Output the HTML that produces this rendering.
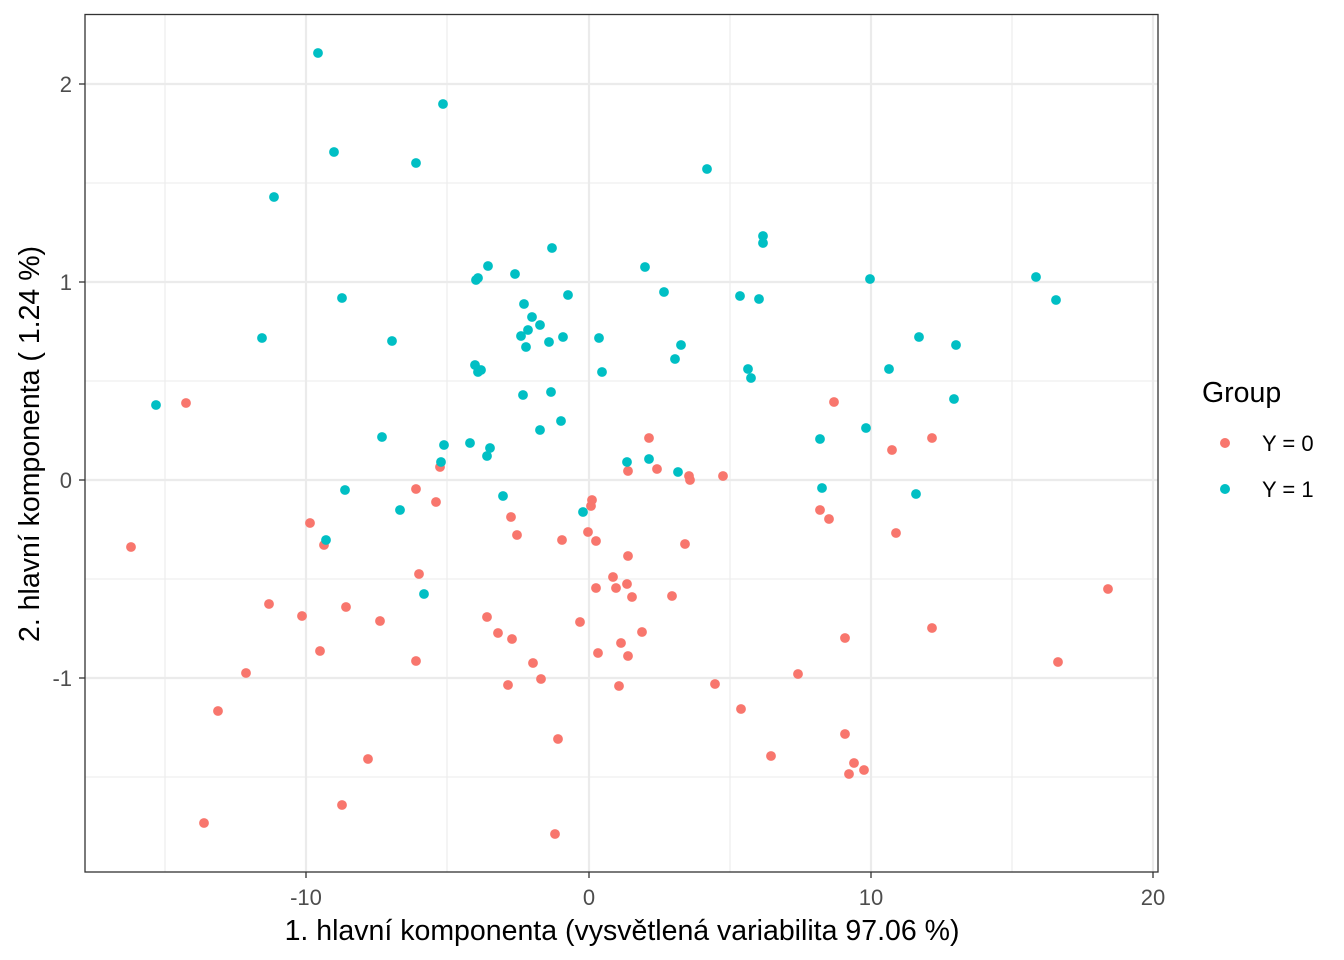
<!DOCTYPE html>
<html><head><meta charset="utf-8"><style>body{margin:0;background:#fff}svg{display:block}text{font-family:"Liberation Sans",Arial,sans-serif}</style></head><body>
<svg width="1344" height="960" xmlns="http://www.w3.org/2000/svg">
<rect width="1344" height="960" fill="#fff"/>
<g stroke="#ebebeb" stroke-width="1.1">
<line x1="165" y1="14" x2="165" y2="872"/><line x1="447" y1="14" x2="447" y2="872"/><line x1="730" y1="14" x2="730" y2="872"/><line x1="1012" y1="14" x2="1012" y2="872"/>
<line x1="85" y1="183" x2="1158" y2="183"/><line x1="85" y1="381" x2="1158" y2="381"/><line x1="85" y1="579" x2="1158" y2="579"/><line x1="85" y1="777" x2="1158" y2="777"/>
</g>
<g stroke="#ebebeb" stroke-width="2.2">
<line x1="306" y1="14" x2="306" y2="872"/><line x1="589" y1="14" x2="589" y2="872"/><line x1="871" y1="14" x2="871" y2="872"/><line x1="1153" y1="14" x2="1153" y2="872"/>
<line x1="85" y1="84" x2="1158" y2="84"/><line x1="85" y1="282" x2="1158" y2="282"/><line x1="85" y1="480" x2="1158" y2="480"/><line x1="85" y1="678" x2="1158" y2="678"/>
</g>
<g fill="#F8766D" id="r"></g>
<g fill="#00BFC4" id="c"></g>
<rect x="85" y="14.5" width="1073" height="857.5" fill="none" stroke="#333" stroke-width="1.3"/>
<g stroke="#333" stroke-width="1.3">
<line x1="306" y1="872" x2="306" y2="878"/><line x1="589" y1="872" x2="589" y2="878"/><line x1="871" y1="872" x2="871" y2="878"/><line x1="1153" y1="872" x2="1153" y2="878"/>
<line x1="79" y1="84" x2="85" y2="84"/><line x1="79" y1="282" x2="85" y2="282"/><line x1="79" y1="480" x2="85" y2="480"/><line x1="79" y1="678" x2="85" y2="678"/>
</g>
<g fill="#4d4d4d" font-size="22" text-anchor="middle">
<text x="306" y="905">-10</text><text x="589" y="905">0</text><text x="871" y="905">10</text><text x="1153" y="905">20</text>
</g>
<g fill="#4d4d4d" font-size="22" text-anchor="end">
<text x="72" y="92">2</text><text x="72" y="290">1</text><text x="72" y="488">0</text><text x="72" y="686">-1</text>
</g>
<text x="622" y="940" font-size="28.5" text-anchor="middle">1. hlavní komponenta (vysvětlená variabilita 97.06 %)</text>
<text transform="translate(39,444) rotate(-90)" font-size="28.5" text-anchor="middle">2. hlavní komponenta ( 1.24 %)</text>
<text x="1202" y="402" font-size="28.5">Group</text>
<circle cx="1225" cy="443" r="5" fill="#F8766D"/><text x="1262" y="451" font-size="22">Y = 0</text>
<circle cx="1225" cy="489" r="5" fill="#00BFC4"/><text x="1262" y="497" font-size="22">Y = 1</text>
<script>
var R=[[131,547],[186,403],[218,711],[204,823],[246,673],[269,604],[302,616],[310,523],[320,651],[324,545],[346,607],[342,805],[368,759],[380,621],[416,489],[419,574],[416,661],[436,502],[440,467],[487,617],[498,633],[511,517],[512,639],[517,535],[508,685],[533,663],[541,679],[562,540],[558,739],[555,834],[580,622],[591,506],[592,500],[588,532],[596,588],[596,541],[598,653],[613,577],[616,588],[627,584],[621,643],[619,686],[628,556],[632,597],[628,656],[642,632],[628,471],[649,438],[657,469],[672,596],[685,544],[689,476],[690,480],[723,476],[715,684],[741,709],[771,756],[798,674],[820,510],[829,519],[834,402],[845,638],[845,734],[849,774],[854,763],[864,770],[892,450],[896,533],[932,438],[932,628],[1058,662],[1108,589]];
var C=[[156,405],[274,197],[262,338],[318,53],[334,152],[342,298],[326,540],[345,490],[392,341],[382,437],[400,510],[424,594],[416,163],[443,104],[441,462],[444,445],[470,443],[475,365],[476,280],[478,278],[478,372],[481,370],[488,266],[487,456],[490,448],[503,496],[515,274],[521,336],[523,395],[524,304],[526,347],[528,330],[532,317],[540,325],[540,430],[549,342],[551,392],[552,248],[561,421],[563,337],[568,295],[583,512],[599,338],[602,372],[627,462],[645,267],[649,459],[664,292],[675,359],[678,472],[681,345],[707,169],[740,296],[748,369],[751,378],[759,299],[763,236],[763,243],[820,439],[822,488],[866,428],[870,279],[889,369],[916,494],[919,337],[954,399],[956,345],[1036,277],[1056,300]];
function d(id,a){var g=document.getElementById(id);a.forEach(function(p){var c=document.createElementNS("http://www.w3.org/2000/svg","circle");c.setAttribute("cx",p[0]);c.setAttribute("cy",p[1]);c.setAttribute("r",4.9);g.appendChild(c);});}
d("r",R);d("c",C);
</script>
</svg>
</body></html>
